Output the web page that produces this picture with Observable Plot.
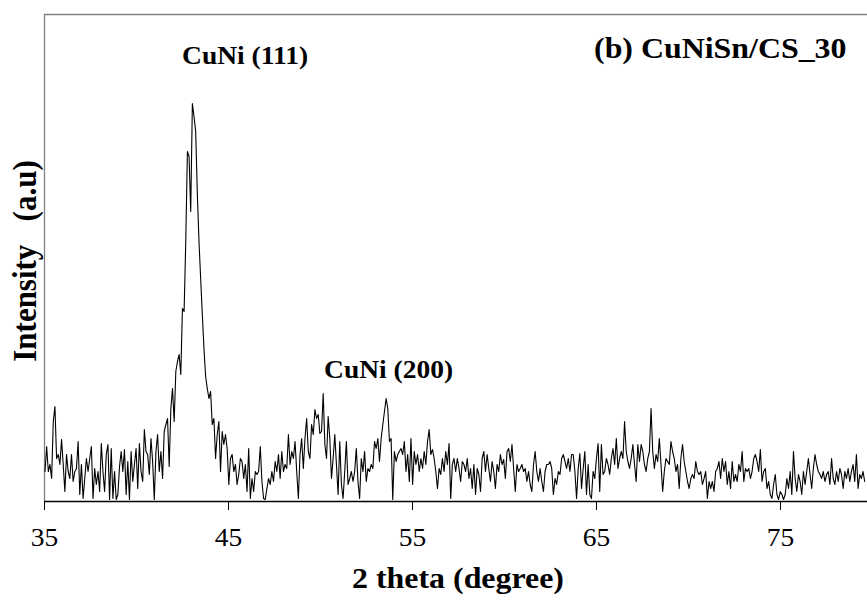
<!DOCTYPE html>
<html>
<head>
<meta charset="utf-8">
<script src="https://cdn.jsdelivr.net/npm/d3@7"></script>
<script src="https://cdn.jsdelivr.net/npm/@observablehq/plot@0.6"></script>
<style>
  html, body { margin: 0; padding: 0; background: #fff; }
</style>
</head>
<body>
<div id="chart"></div>
<script>
// XRD scan: 2θ grid (start, step) and intensities (a.u.)
const scanStart = 35.027;
const scanStep = 0.09;

// 35.0° – 46.7° (incl. CuNi (111) peak)
const intensityPart1 = [
  30,55,30,37,23,80,95,43,47,37,
  62,37,10,47,30,23,47,20,30,33,
  60,7,37,3,23,43,30,43,55,3,
  33,17,30,10,58,30,10,47,57,2,
  53,3,30,2,7,35,50,30,52,7,
  40,2,50,20,37,53,13,58,30,20,
  72,50,47,27,63,40,2,50,67,30,
  50,23,70,77,83,35,93,113,80,130,
  140,147,127,193,190,260,350,345,290,398,
  385,370,307,260,223,187,153,125,113,103,
  110,77,83,43,67,80,30,70,57,67,
  53,17,43,47,30,37,17,27,43,40,
  23,37,10,53,3,23,10,30,27,30
];
// 46.7° – 54.2° (incl. CuNi (200) region)
const intensityPart2 = [
  55,20,3,2,13,23,17,30,20,40,
  30,47,23,50,30,37,33,67,37,50,
  43,60,30,3,47,63,33,63,83,50,
  43,77,67,92,83,87,68,70,108,57,
  43,85,63,23,43,67,37,7,60,17,
  3,30,60,17,23,30,20,30,53,20,
  3,43,30,50,20,33,30,37,33,60,
  53,63,40,63,77,90,103,93,60,63,
  2,50,40,47
];
// 54.3° – 62.3°
const intensityPart3 = [
  50,53,47,60,30,47,20,63,17,50,
  37,47,30,43,33,50,37,60,72,47,
  52,43,30,13,33,27,43,30,50,37,
  58,3,37,43,30,43,33,20,40,37,
  30,43,23,33,13,37,7,33,27,10,
  43,50,30,47,33,20,40,30,13,37,
  30,47,37,42,23,50,53,40,57,33,
  10,37,30,33,37,30,33,20,30,17,
  10,37,50,30,20,33,20,10,30,37
];
// 62.4° – 70.5°
const intensityPart4 = [
  37,
  40,33,7,23,17,30,27,43,47,40,
  33,43,30,47,47,30,3,33,48,13,
  33,50,7,37,7,3,30,23,43,58,
  10,57,27,30,43,37,27,43,53,37,
  63,33,43,50,43,80,50,40,33,43,
  57,37,20,57,40,57,50,37,30,43,
  50,93,50,33,47,40,63,37,10,30,
  43,40,37,60,50,43,30,37,13,43,
  57,40,30,20,13,23,27,23,40,30
];
// 70.6° – 79.6°
const intensityPart5 = [
  27,30,17,23,30,3,20,13,20,10,
  30,33,40,23,43,30,40,17,30,13,
  40,20,27,20,37,30,50,20,33,30,
  33,23,30,43,47,40,30,52,20,30,
  33,13,20,7,3,17,27,7,2,10,
  7,2,7,23,13,30,7,50,23,10,
  27,20,7,30,17,30,43,27,13,33,
  47,37,30,27,23,30,20,27,30,17,
  43,23,17,30,20,33,27,13,30,23,
  33,20,30,37,20,47,13,27,23,30,
  20
];

const tickValues = [35, 45, 55, 65, 75];
const xDomain = [35, 79.73];
const yDomain = [0, 487];

const peakLabels = ["CuNi (111)", "CuNi (200)"];
const peakLabelTheta = [45.9, 53.7];
const peakLabelIntensity = [438, 124];

const sampleTitle = "(b) CuNiSn/CS_30";
const xLabel = "2 theta (degree)";
const yLabel = "Intensity\u00a0\u00a0\u00a0(a.u)";

const intensity = [...intensityPart1, ...intensityPart2, ...intensityPart3, ...intensityPart4, ...intensityPart5];
const scan = intensity.map((v, i) => ({theta: scanStart + i * scanStep, counts: v}));

const serif = "'Liberation Serif', 'Times New Roman', Times, serif";

const chart = Plot.plot({
  width: 867,
  height: 601,
  marginLeft: 44,
  marginRight: 0,
  marginTop: 14,
  marginBottom: 100,
  x: {domain: xDomain},
  y: {domain: yDomain, axis: null},
  style: {fontFamily: serif, background: "white", color: "black", overflow: "visible"},
  marks: [
    Plot.ruleX([xDomain[0]], {stroke: "#7f7f7f", strokeWidth: 1.3}),
    Plot.ruleY([yDomain[1]], {stroke: "#7f7f7f", strokeWidth: 1.3}),
    Plot.line(scan, {x: "theta", y: "counts", stroke: "black", strokeWidth: 1.1, clip: true}),
    Plot.ruleY([yDomain[0]], {stroke: "black", strokeWidth: 1.5}),
    Plot.axisX({ticks: tickValues, tickSize: 9, tickPadding: 18, fontSize: 25, label: null, tickFormat: d => String(d)}),
    Plot.text(peakLabels, {
      x: peakLabelTheta, y: peakLabelIntensity, text: d => d,
      fontSize: 25, fontWeight: "bold", textAnchor: "middle", lineAnchor: "bottom", fill: "black"
    }),
    Plot.text([sampleTitle], {
      frameAnchor: "top-right", textAnchor: "end", lineAnchor: "bottom",
      dx: -21, dy: 43, fontSize: 29, fontWeight: "bold", fill: "black"
    }),
    Plot.text([xLabel], {
      frameAnchor: "bottom", textAnchor: "middle", lineAnchor: "bottom",
      dx: 2, dy: 86, fontSize: 29, fontWeight: "bold", fill: "black"
    }),
    Plot.text([yLabel], {
      frameAnchor: "left", textAnchor: "middle", lineAnchor: "bottom", rotate: -90,
      dx: -9, dy: 3, fontSize: 31, fontWeight: "bold", fill: "black"
    })
  ]
});

// the original lettering is Times stretched ~10% horizontally: apply the same stretch
d3.select(chart).selectAll("text").each(function() {
  const tr = this.getAttribute("transform") || "";
  const rotated = /rotate\(/.test(tr);
  this.setAttribute("transform", tr + (rotated ? " scale(1,1.1)" : " scale(1.1,1)"));
});

document.getElementById("chart").appendChild(chart);
</script>
</body>
</html>
